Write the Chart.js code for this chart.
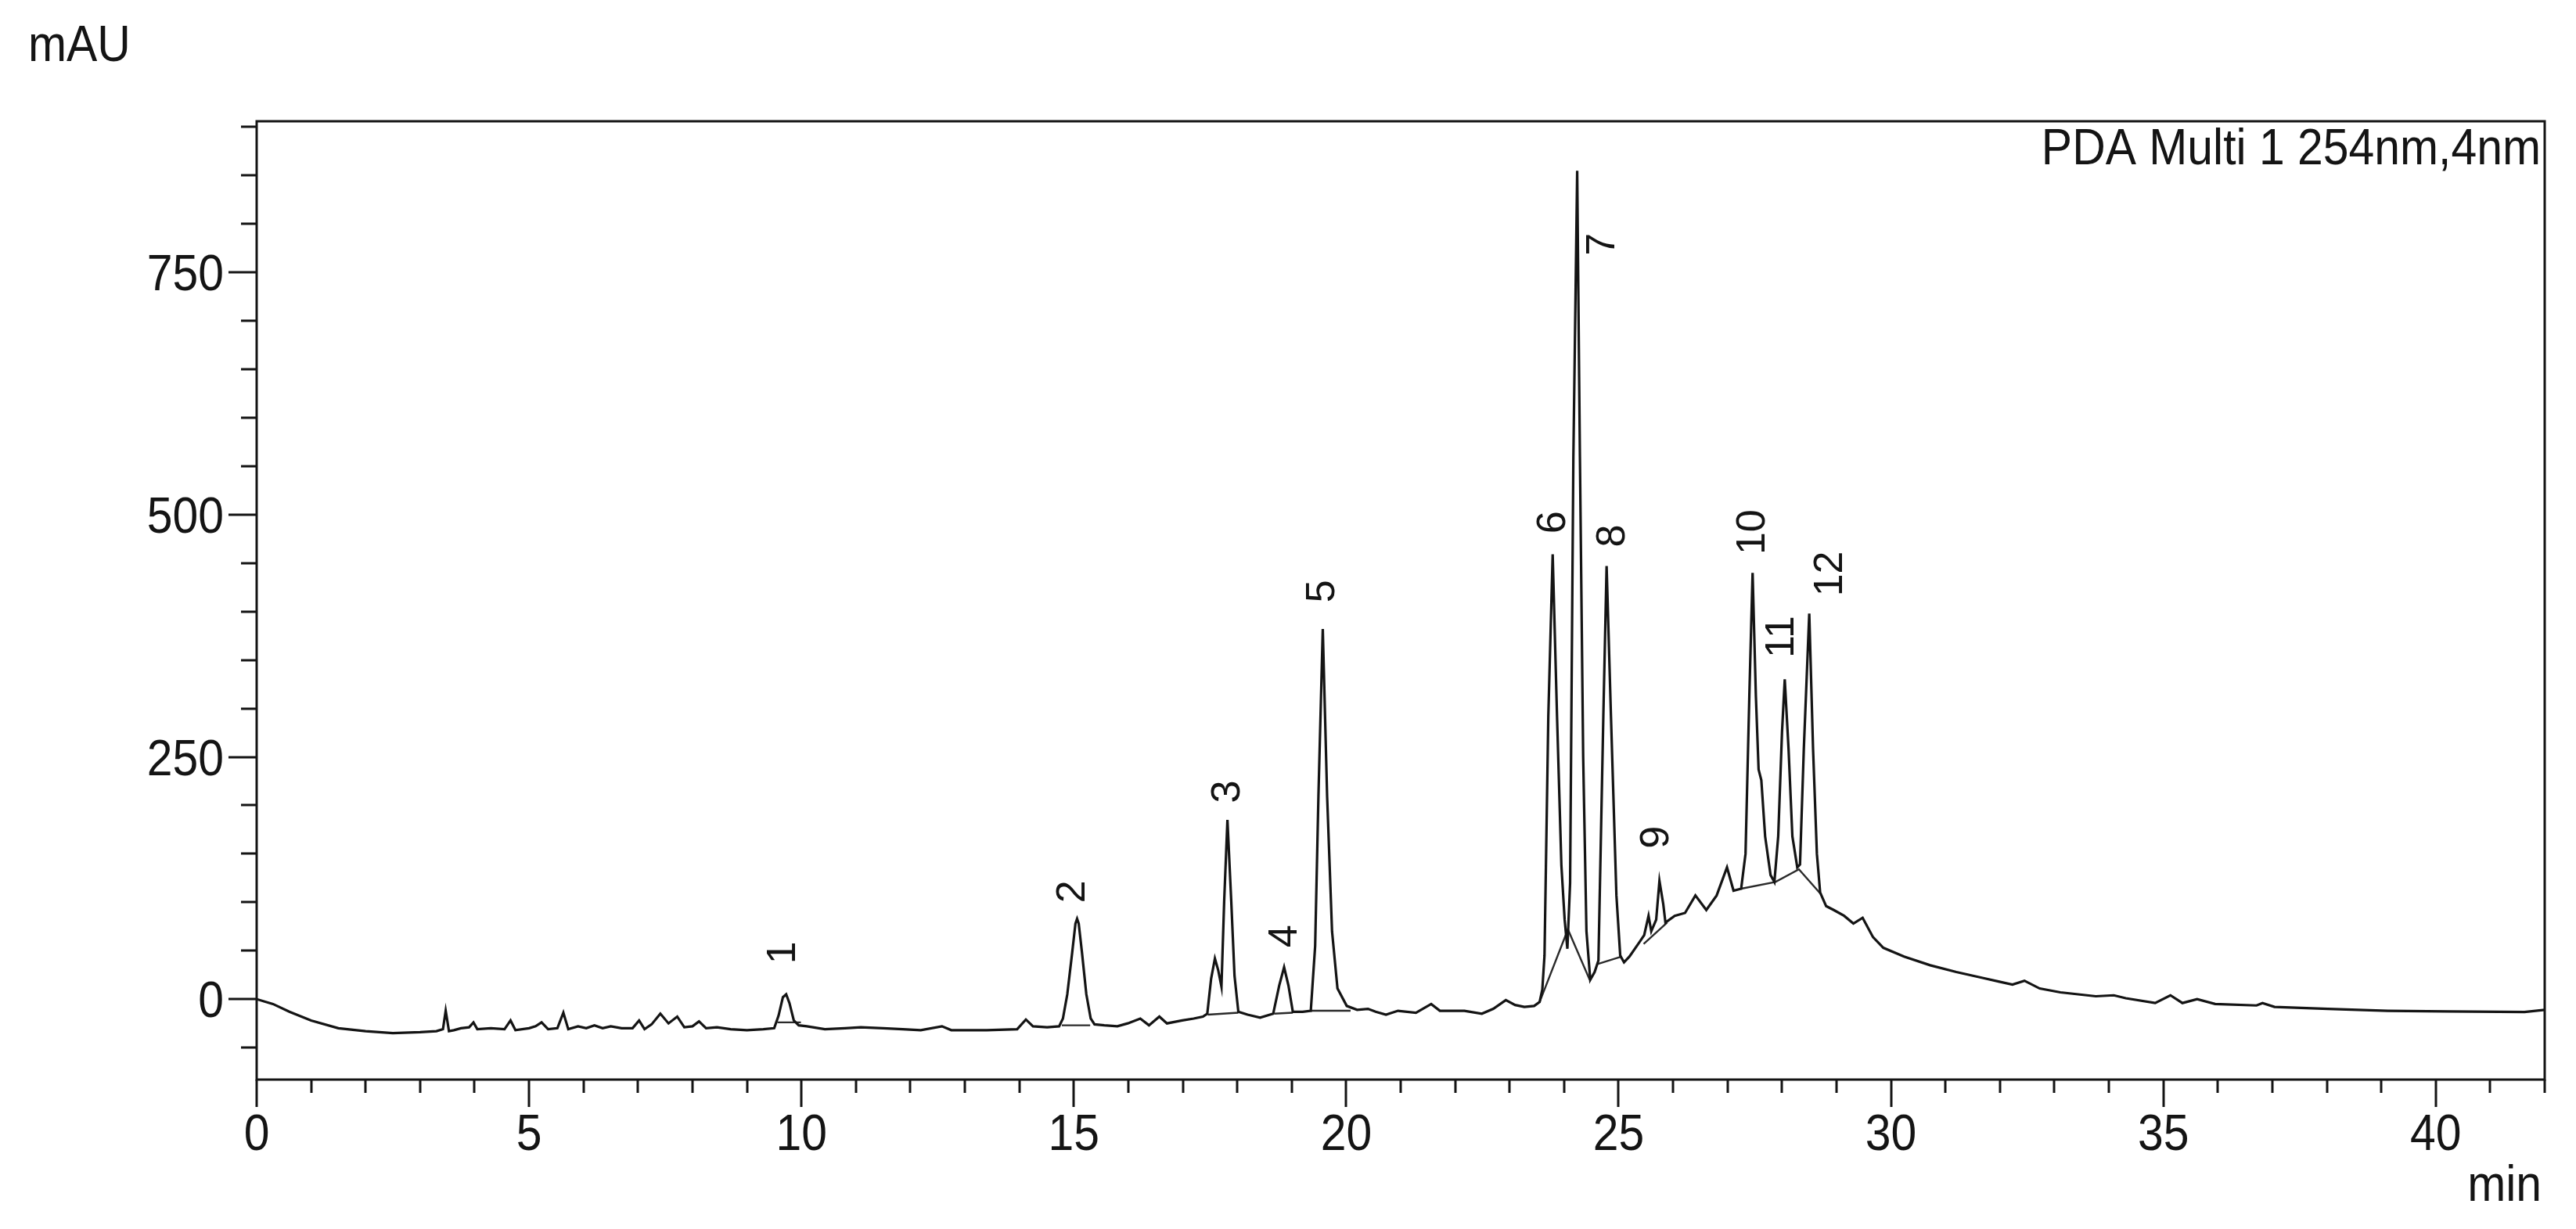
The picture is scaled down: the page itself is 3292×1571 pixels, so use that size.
<!DOCTYPE html>
<html>
<head>
<meta charset="utf-8">
<title>PDA Multi 1 254nm,4nm</title>
<script src="https://cdn.jsdelivr.net/npm/chart.js@4.4.1/dist/chart.umd.min.js"></script>
<style>
  html, body { margin: 0; padding: 0; background: #fff; }
  canvas { display: block; }
</style>
</head>
<body>
<canvas id="chrom" width="3292" height="1571" style="width:3292px;height:1571px"></canvas>
<script>
// retention time (min) / absorbance (mAU)
const times = [
  0, 0.3, 0.6, 1.0, 1.5, 2.0, 2.5, 3.0, 3.3, 3.42, 3.47, 3.53, 3.62, 3.75, 3.9, 3.98, 4.05, 4.3, 4.55, 4.66,
  4.75, 5.0, 5.12, 5.23, 5.35, 5.52, 5.63, 5.72, 5.9, 6.05, 6.2, 6.35, 6.5, 6.7, 6.9, 7.02, 7.12, 7.25, 7.41, 7.56,
  7.72, 7.85, 8.0, 8.12, 8.25, 8.45, 8.7, 9.0, 9.3, 9.5, 9.58, 9.66, 9.72, 9.78, 9.86, 9.95, 10.1, 10.43, 10.8, 11.09,
  11.5, 11.86, 12.19, 12.58, 12.75, 12.97, 13.4, 13.96, 14.12, 14.25, 14.51, 14.73, 14.8, 14.88, 14.97, 15.03, 15.06, 15.09, 15.15, 15.23,
  15.31, 15.38, 15.56, 15.8,
  15.99, 16.22, 16.38, 16.57, 16.71, 16.99, 17.2, 17.37, 17.45, 17.52, 17.59, 17.65, 17.71, 17.76, 17.82, 17.89, 17.95, 18.02, 18.19, 18.42,
  18.66, 18.77, 18.86, 18.94, 19.02, 19.2, 19.35, 19.43, 19.49, 19.57, 19.65, 19.74, 19.84, 20.01, 20.2, 20.4, 20.54, 20.73, 20.95, 21.28,
  21.56, 21.72, 22.17, 22.49, 22.7, 22.93, 23.1, 23.27, 23.45, 23.55, 23.6, 23.64, 23.71, 23.79, 23.87, 23.95, 24.01, 24.06, 24.11, 24.17,
  24.24, 24.29, 24.35, 24.41, 24.48, 24.56, 24.63, 24.72, 24.78, 24.86, 24.96, 25.03, 25.1, 25.2, 25.36, 25.47, 25.55, 25.6, 25.69, 25.75,
  25.82, 25.86, 26.03, 26.22, 26.41, 26.61, 26.8, 26.99, 27.11, 27.25, 27.33, 27.4, 27.46, 27.52, 27.57, 27.62, 27.69, 27.79, 27.86, 27.93,
  28.0, 28.05, 28.12, 28.19, 28.28, 28.33, 28.4, 28.5, 28.57, 28.64, 28.7, 28.81, 28.95, 29.14, 29.31, 29.48, 29.67, 29.86, 30.24, 30.72,
  31.2, 31.68, 31.99, 32.23, 32.45, 32.73, 33.11, 33.76, 34.09, 34.31, 34.85, 35.13, 35.35, 35.62, 35.95, 36.71, 36.82, 37.04, 38.02, 39.12,
  40.21, 41.63, 42.0
];
const signal = [
  0, -5, -13, -22, -30, -33, -35, -34, -33, -31, -12, -33, -32, -30, -29, -24, -31, -30, -31, -22,
  -32, -30, -28, -24, -31, -30, -14, -31, -28, -30, -27, -30, -28, -30, -30, -22, -31, -26, -15, -25,
  -18, -29, -28, -23, -30, -29, -31, -32, -31, -30, -17, 2, 5, -4, -22, -27, -28, -31, -30, -29,
  -30, -31, -32, -28, -32, -32, -32, -31, -21, -28, -29, -28, -20, 5, 48, 78, 83, 78, 48, 5,
  -20, -26, -27, -28,
  -25, -20, -27, -18, -25, -22, -20, -18, -15, 21, 42, 30, 13, 101, 185, 101, 24, -13, -16, -19,
  -15, 14, 33, 14, -13, -13, -12, 55, 209, 382, 209, 70, 11, -7, -11, -10, -13, -16, -12, -14,
  -5, -12, -12, -15, -10, -1, -6, -8, -7, -3, 10, 45, 292, 459, 292, 138, 82, 52, 120, 560,
  855, 560, 250, 70, 20, 28, 40, 292, 447, 292, 107, 45, 38, 44, 57, 66, 86, 70, 82, 122,
  98, 79, 86, 89, 107, 92, 107, 136, 112, 114, 150, 313, 440, 313, 237, 226, 168, 128, 121, 168,
  276, 330, 258, 168, 136, 139, 258, 398, 258, 150, 110, 96, 92, 86, 78, 84, 64, 53, 44, 35,
  28, 22, 18, 15, 19, 11, 7, 3, 4, 1, -4, 4, -4, 0, -5, -6.5, -4, -8, -10, -12,
  -12.7, -13.2, -11
];

// integration baselines drawn under the peaks (null = gap)
const baseTimes  = [9.56, 9.99, null, 14.78, 15.3, null, 17.46, 18.02, null, 18.68, 19.02, null, 19.35, 20.08, null,
                    23.55, 24.07, 24.47, null, 24.6, 25.06, null, 25.46, 25.89, null, 27.25, 27.88, 28.31, 28.72];
const baseSignal = [-24, -24, null, -27, -27, null, -16, -14, null, -15, -14, null, -12, -12, null,
                    -3, 72, 20, null, 36, 44, null, 57, 79, null, 114, 121, 134, 108];

// peak numbers and the centre of each rotated label
const peakNames   = ["1", "2", "3", "4", "5", "6", "7", "8", "9", "10", "11", "12"];
const labelTimes  = [9.68, 14.99, 17.84, 18.88, 19.57, 23.81, 24.71, 24.9, 25.71, 27.47, 28.0, 28.9];
const labelValues = [48, 111, 214, 65, 421, 492, 779, 478, 167, 482, 374, 439];

// axes
const xRange = [0, 42];
const yRange = [-83, 906];
const xLabelTicks = [0, 5, 10, 15, 20, 25, 30, 35, 40];
const yLabelTicks = [0, 250, 500, 750];

const FONT = "'Liberation Sans', Arial, sans-serif";
const SQUEEZE = 0.92;   // the source lettering is slightly condensed
const INK = "#141414";

// upright text, squeezed horizontally
function squeezedText(ctx, str, x, y, align) {
  ctx.save();
  ctx.translate(x, y);
  ctx.scale(SQUEEZE, 1);
  ctx.textAlign = align;
  ctx.fillText(str, 0, 0);
  ctx.restore();
}

const chromFrame = {
  id: "chromFrame",
  afterDraw(chart) {
    const { ctx, chartArea: a, scales: { x, y } } = chart;
    ctx.save();
    ctx.strokeStyle = INK;
    ctx.lineWidth = 3;
    ctx.strokeRect(a.left, a.top, a.right - a.left, a.bottom - a.top);

    // tick marks, long for labelled ticks
    ctx.beginPath();
    x.ticks.forEach(t => {
      const px = Math.round(x.getPixelForValue(t.value));
      const len = xLabelTicks.includes(t.value) ? 35 : 17;
      ctx.moveTo(px, a.bottom);
      ctx.lineTo(px, a.bottom + len);
    });
    y.ticks.forEach(t => {
      const py = Math.round(y.getPixelForValue(t.value));
      const len = yLabelTicks.includes(t.value) ? 36 : 20;
      ctx.moveTo(a.left, py);
      ctx.lineTo(a.left - len, py);
    });
    ctx.stroke();

    // tick labels
    ctx.fillStyle = INK;
    ctx.font = "64px " + FONT;
    ctx.textBaseline = "alphabetic";
    xLabelTicks.forEach(v => squeezedText(ctx, String(v), x.getPixelForValue(v), a.bottom + 90, "center"));
    yLabelTicks.forEach(v => squeezedText(ctx, String(v), a.left - 42, y.getPixelForValue(v) + 23, "right"));

    // axis titles and channel name
    squeezedText(ctx, "mAU", 36, 78, "left");
    squeezedText(ctx, "min", a.right - 4, 1535, "right");
    squeezedText(ctx, "PDA Multi 1 254nm,4nm", a.right - 5, a.top + 55, "right");

    // peak numbers, rotated
    ctx.font = "52px " + FONT;
    ctx.textAlign = "center";
    ctx.textBaseline = "middle";
    peakNames.forEach((name, i) => {
      ctx.save();
      ctx.translate(x.getPixelForValue(labelTimes[i]), y.getPixelForValue(labelValues[i]));
      ctx.rotate(-Math.PI / 2);
      ctx.fillText(name, 0, 0);
      ctx.restore();
    });
    ctx.restore();
  }
};

new Chart(document.getElementById("chrom"), {
  type: "line",
  data: {
    datasets: [
      {
        data: times.map((t, i) => ({ x: t, y: signal[i] })),
        borderColor: INK,
        borderWidth: 3.2,
        pointRadius: 0,
        tension: 0
      },
      {
        data: baseTimes.map((t, i) => ({ x: t, y: baseSignal[i] })),
        borderColor: "#2a2a2a",
        borderWidth: 2.4,
        pointRadius: 0,
        tension: 0,
        spanGaps: false
      }
    ]
  },
  options: {
    responsive: false,
    animation: false,
    events: [],
    layout: { padding: { left: 0, top: 155, right: 40, bottom: 0 } },
    plugins: { legend: { display: false }, tooltip: { enabled: false } },
    scales: {
      x: {
        type: "linear",
        min: xRange[0],
        max: xRange[1],
        grid: { display: false },
        border: { display: false },
        ticks: { stepSize: 1, autoSkip: false, display: false },
        afterFit: s => { s.height = 191; }
      },
      y: {
        min: yRange[0],
        max: yRange[1],
        grid: { display: false },
        border: { display: false },
        ticks: { stepSize: 50, includeBounds: false, autoSkip: false, display: false },
        afterFit: s => { s.width = 328; }
      }
    }
  },
  plugins: [chromFrame]
});
</script>
</body>
</html>
